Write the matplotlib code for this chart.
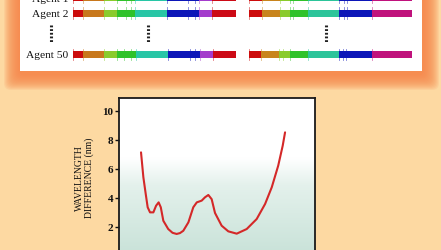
import numpy as np
import matplotlib
matplotlib.use("Agg")
import matplotlib.pyplot as plt
from matplotlib.patches import Rectangle, FancyBboxPatch
from matplotlib.colors import LinearSegmentedColormap

# ---- data -------------------------------------------------------------
agents = ["Agent 1", "Agent 2", "Agent 50"]

# band edges along each bar (0-100) and their colours
left_edges = {
    "Agent 1": [0, 5.8, 19.1, 26.7, 37.9, 57.4, 77.4, 85.4, 100],
    "Agent 2": [0, 5.8, 19.1, 26.7, 37.9, 57.4, 77.4, 85.4, 100],
    "Agent 50": [0, 5.8, 19.1, 26.9, 38.5, 58.4, 77.9, 86.1, 100],
}
left_extra = {
    "Agent 1": [32.2, 35.3, 70.7, 74.8],
    "Agent 2": [32.2, 35.3, 70.7, 74.8],
    "Agent 50": [31.0, 35.5, 72.0, 75.0],
}
left_colors = ["#cc0c0c", "#c8781c", "#8acb2c", "#2fc22a", "#28c6a6",
               "#0c16b8", "#a43ccc", "#cc0a16"]

right_edges = {
    "Agent 1": [0, 7.8, 19.1, 25.2, 36.5, 55.5, 75.4, 100],
    "Agent 2": [0, 7.8, 19.1, 25.2, 36.5, 55.5, 75.4, 100],
    "Agent 50": [0, 7.2, 18.7, 25.2, 36.5, 55.3, 75.4, 100],
}
right_extra = {
    "Agent 1": [27.0, 58.4, 60.1],
    "Agent 2": [27.0, 58.4, 60.1],
    "Agent 50": [20.7, 57.8, 59.5],
}
right_colors = ["#cc0c0c", "#c8841c", "#8acb2c", "#2fc22a", "#2cc49a",
                "#0c16b8", "#c0127c"]

# wavelength difference curve
pos = [11.1, 12.3, 13.5, 14.5, 15.7, 17.4, 18.8, 20.1, 21.2, 22.5, 25.0,
       27.2, 29.3, 31.0, 32.7, 35.3, 37.8, 39.6, 42.1, 43.8, 45.5, 47.2,
       48.9, 52.3, 55.7, 60.0, 65.1, 70.2, 74.5, 77.9, 81.2, 83.5, 84.7]
wdiff = [7.13, 5.41, 4.26, 3.34, 2.99, 2.99, 3.45, 3.68, 3.34, 2.41, 1.84,
         1.58, 1.50, 1.56, 1.72, 2.30, 3.34, 3.68, 3.80, 4.03, 4.19, 3.90,
         2.95, 2.07, 1.68, 1.52, 1.84, 2.53, 3.57, 4.72, 6.21, 7.59, 8.51]
yticks = [2, 4, 6, 8, 10]

# ---- figure -----------------------------------------------------------
W, H = 441, 251
fig = plt.figure(figsize=(W / 100, H / 100), dpi=100)
fig.patch.set_facecolor("#fdd9a2")

def px_axes(x0, y0, x1, y1, **kw):
    return fig.add_axes([x0 / W, 1 - y1 / H, (x1 - x0) / W, (y1 - y0) / H], **kw)

# background layer in pixel coordinates
bg = px_axes(0, 0, W, H)
bg.set_xlim(0, W)
bg.set_ylim(H, 0)
bg.axis("off")

# orange glow round the white panel
for i in range(16):
    d = 16 - i
    bg.add_patch(FancyBboxPatch((20 - d, -30 - d), 402 + 2 * d + 1, 102 + 2 * d + 3,
                                boxstyle="round,pad=0,rounding_size=7",
                                fc="#f6864a", ec="none", alpha=0.12))
bg.add_patch(Rectangle((20, -30), 402, 102, fc="white", ec="none"))

# agent labels and dotted 'skip' markers
row_y = [-1.5, 14.2, 55.3]
for name, y in zip(agents, row_y):
    bg.text(68, y + 0.5, name, ha="right", va="center", fontsize=8.2,
            family="Liberation Serif", color="#111111")
for x in [51, 148, 326]:
    bg.plot([x, x], [26, 44], color="#222222", lw=2.2, ls=(0, (0.6, 0.6)))


def draw_bars(x0, x1, edges, extra, colors):
    ax = px_axes(x0, -10, x1, 72)
    ax.set_xlim(0, 100)
    ax.set_ylim(72, -10)
    ax.axis("off")
    ax.patch.set_alpha(0)
    for name, y in zip(agents, row_y):
        e = edges[name]
        for a, b, c in zip(e[:-1], e[1:], colors):
            ax.add_patch(Rectangle((a, y - 3.6), b - a, 7.2, fc=c, ec="none"))
        # faint ticks at band edges, coloured like the neighbouring band
        ticks = list(e) + list(extra[name])
        for a in ticks:
            k = min(max(np.searchsorted(e, a, side="right") - 1, 0), len(colors) - 1)
            ax.plot([a, a], [y - 5.8, y + 5.8], color=colors[k], lw=0.6,
                    alpha=0.55)


draw_bars(73.3, 236, left_edges, left_extra, left_colors)
draw_bars(249, 411.7, right_edges, right_extra, right_colors)

# ---- wavelength difference chart -------------------------------------
ax = px_axes(119.3, 99.3, 315, 256.7)
ax.set_xlim(0, 100)
ax.set_ylim(0, 10.86)
grad = np.linspace(0, 1, 256)[:, None]
cmap = LinearSegmentedColormap.from_list(
    "g", [(0, "#c8e2d8"), (0.45, "#e4f1ec"), (0.62, "#ffffff"), (1, "#ffffff")])
ax.imshow(grad, extent=[0, 100, 0, 10.86], origin="lower", aspect="auto",
          cmap=cmap, zorder=0)
ax.plot(pos, wdiff, color="#d42828", lw=1.5, solid_capstyle="round",
        solid_joinstyle="round", zorder=3)
ax.set_xticks([])
ax.set_yticks(yticks)
ax.set_yticklabels([str(v) for v in yticks], fontsize=8, fontweight="bold",
                   family="Liberation Serif")
ax.tick_params(axis="y", direction="out", length=3, width=1, pad=1.5,
               colors="#111111")
for s in ax.spines.values():
    s.set_color("#1a1a1a")
    s.set_linewidth(1.3)
ax.set_ylabel("WAVELENGTH\nDIFFERENCE (nm)", fontsize=7,
              family="Liberation Serif", linespacing=1.0,
              color="#111111")
ax.yaxis.set_label_coords(-0.13, 0.5)

fig.savefig("out.png", dpi=100, facecolor=fig.get_facecolor())
